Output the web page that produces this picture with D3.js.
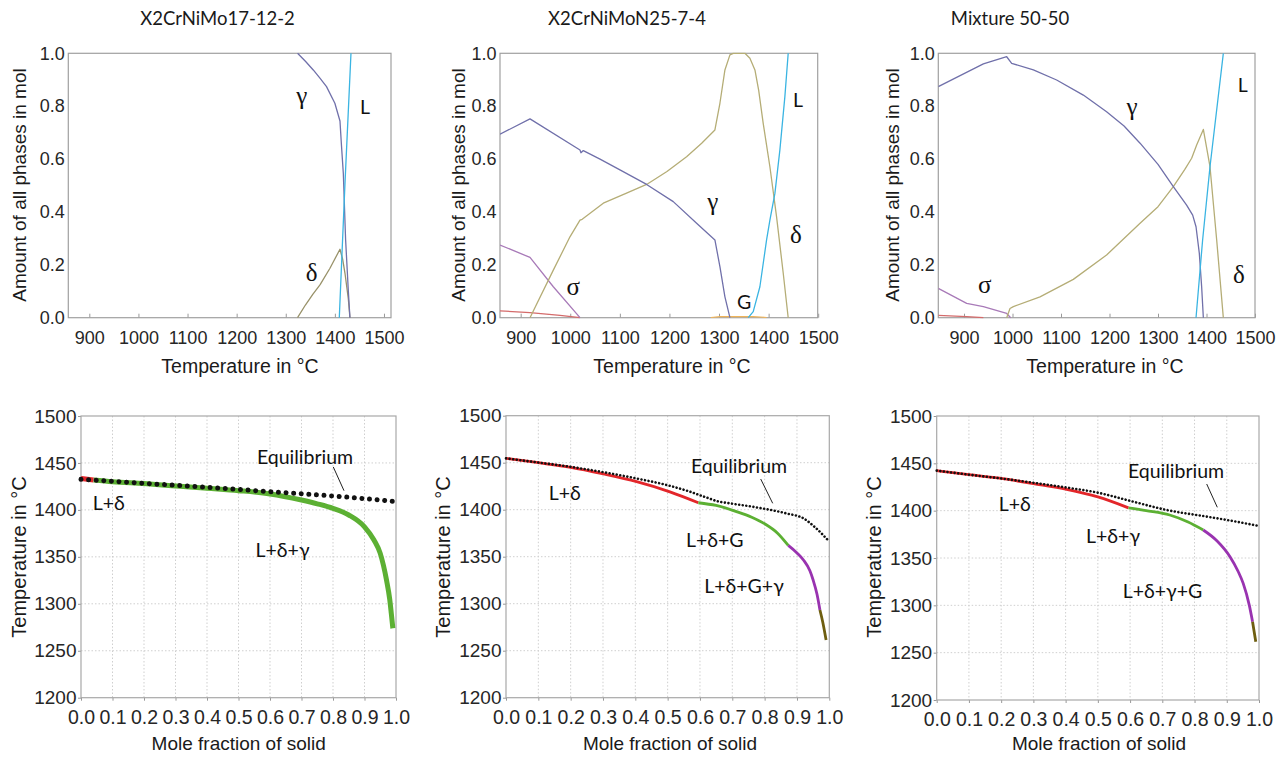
<!DOCTYPE html>
<html><head><meta charset="utf-8">
<script src="https://cdn.jsdelivr.net/npm/d3@7"></script>
<style>
body{margin:0;background:#fff;}
svg{display:block;}
</style></head><body>
<svg id="c" width="1288" height="758"></svg>
<script>
// ================= DATA =================
const titles = ["X2CrNiMo17-12-2", "X2CrNiMoN25-7-4", "Mixture 50-50"];
const tempTicks = [900, 1000, 1100, 1200, 1300, 1400, 1500];
const amountTicks = [0, 0.2, 0.4, 0.6, 0.8, 1.0];
const fractionTicks = [0, 0.1, 0.2, 0.3, 0.4, 0.5, 0.6, 0.7, 0.8, 0.9, 1.0];
const scheilTempTicks = [1200, 1250, 1300, 1350, 1400, 1450, 1500];

// Panel 1: X2CrNiMo17-12-2  [temperature, amount]
const p1Gamma = [[1324,1.0],[1340,0.97],[1356,0.937],[1370,0.905],[1383,0.874],[1400,0.811],[1410.4,0.744],[1413.5,0.65],[1417.2,0.546],[1421.9,0.294],[1427.3,0.105],[1430.7,0]];
const p1Liquid = [[1409,0],[1420.6,0.508],[1432.8,1.0]];
const p1Delta = [[1324,0],[1340,0.048],[1355,0.088],[1370,0.125],[1390,0.187],[1410.4,0.259],[1416,0.22],[1420.6,0.168],[1427.3,0.073],[1430.7,0]];

// Panel 2: X2CrNiMoN25-7-4
const p2Gamma = [[858.3,0.694],[918.8,0.752],[1019.6,0.634],[1021.6,0.624],[1026.3,0.632],[1060,0.6],[1100.2,0.559],[1154,0.504],[1207.7,0.439],[1254.8,0.357],[1291.7,0.294],[1301.8,0.193],[1311.9,0.079],[1322,0]];
const p2Delta = [[918.8,0],[965.8,0.18],[999.4,0.306],[1019.6,0.369],[1024,0.372],[1066.6,0.433],[1110,0.468],[1154,0.504],[1195,0.553],[1234.6,0.609],[1265,0.66],[1291.7,0.71],[1301.8,0.811],[1311.9,0.937],[1322,0.994],[1328.7,1.0],[1352.2,1.0],[1362.3,0.981],[1372.4,0.937],[1380,0.86],[1389.1,0.735],[1402.6,0.571],[1416,0.382],[1429.5,0.168],[1439.5,0]];
const p2Liquid = [[1358.9,0],[1369,0.023],[1382.4,0.117],[1395.9,0.294],[1402.6,0.369],[1412.7,0.47],[1422.7,0.634],[1432.8,0.836],[1439.5,1.0]];
const p2Sigma = [[858.3,0.275],[918.8,0.228],[965.8,0.117],[1019.6,0]];
const p2Minor = [[858.3,0.026],[918.8,0.019],[979.3,0.009],[1019.6,0]];
const p2Gphase = [[1283.6,0.001],[1301.8,0.004],[1369,0.004],[1395.9,0.001]];

// Panel 3: Mixture 50-50
const p3Gamma = [[847,0.874],[939.9,0.96],[988,0.987],[998.3,0.962],[1043,0.937],[1091,0.899],[1146,0.842],[1194,0.779],[1230,0.725],[1263,0.66],[1300,0.58],[1331.6,0.496],[1359,0.426],[1371.5,0.388],[1378.4,0.344],[1385.2,0.243],[1390,0.117],[1393.5,0]];
const p3Delta = [[988,0],[994.8,0.035],[1001.7,0.042],[1056.7,0.079],[1125.4,0.145],[1194,0.237],[1263,0.357],[1300,0.42],[1331.6,0.496],[1355,0.56],[1369.4,0.603],[1379.7,0.653],[1393.5,0.712],[1407.2,0.571],[1421,0.294],[1434.7,0]];
const p3Liquid = [[1378.4,0],[1392,0.294],[1407.2,0.571],[1434.7,1.0]];
const p3Sigma = [[847,0.111],[905.5,0.054],[939.9,0.042],[988,0.016],[996.2,0]];
const p3Minor = [[847,0.009],[905.5,0.004],[939.9,0]];

// Scheil panels  [mole fraction of solid, temperature]
const p4Equilibrium = [[0,1432.6],[0.1,1430.5],[0.2,1428.3],[0.3,1426.2],[0.4,1424],[0.5,1421.8],[0.6,1419.4],[0.7,1417.2],[0.8,1414.8],[0.9,1412],[1.0,1408.8]];
const p4Delta = [[0,1433.5],[0.02,1432.6],[0.04,1431.8]];
const p4DeltaGamma = [[0.04,1431.8],[0.1,1430],[0.2,1428],[0.3,1425.5],[0.4,1423],[0.5,1420.5],[0.6,1417],[0.7,1410.5],[0.75,1406.5],[0.8,1401.7],[0.85,1394.6],[0.9,1382],[0.93,1368],[0.95,1353.7],[0.97,1325],[0.98,1305],[0.985,1290],[0.99,1274]];

const p5Equilibrium = [[0,1454.6],[0.1,1450.2],[0.2,1445.6],[0.3,1440],[0.4,1433.5],[0.5,1426],[0.56,1420.2],[0.62,1413],[0.66,1408.5],[0.68,1407.4],[0.765,1403],[0.868,1396],[0.92,1390.8],[0.96,1380],[1.0,1366]];
const p5Delta = [[0,1454.6],[0.1,1450],[0.2,1445],[0.301,1438],[0.404,1429.8],[0.507,1419],[0.595,1407.4]];
const p5DeltaG = [[0.595,1407.4],[0.65,1404.5],[0.713,1398],[0.76,1392],[0.8,1385],[0.84,1375],[0.873,1362]];
const p5DeltaGGamma = [[0.873,1362],[0.9,1354],[0.92,1346.5],[0.94,1335],[0.95,1325.2],[0.962,1310],[0.971,1293.3]];
const p5Final = [[0.971,1293.3],[0.98,1280],[0.99,1261.5]];

const p6Equilibrium = [[0,1442.3],[0.1,1438],[0.2,1434],[0.3,1429.5],[0.4,1424.6],[0.5,1419],[0.61,1409.5],[0.714,1400.7],[0.838,1393.7],[0.92,1389],[1.0,1383.8]];
const p6Delta = [[0,1442.3],[0.1,1438],[0.2,1434],[0.3,1428.5],[0.403,1422.5],[0.5,1414.5],[0.595,1403]];
const p6DeltaGamma = [[0.595,1403],[0.65,1400],[0.723,1395.4],[0.78,1388],[0.827,1379.6]];
const p6DeltaGammaG = [[0.827,1379.6],[0.87,1368],[0.91,1351.4],[0.935,1336],[0.951,1323.2],[0.97,1300],[0.98,1282.7]];
const p6Final = [[0.98,1282.7],[0.985,1272],[0.99,1261.6]];

// ================= DRAWING =================
const svg = d3.select("#c");
const SANS = "'Liberation Sans', Arial, sans-serif";
const HUM = "Lato, 'Open Sans', sans-serif";
const SERIF = "'Liberation Serif', 'DejaVu Serif', serif";

const C = {
  gamma: "#7070aa", liquid: "#3ab4e2", delta1: "#99926a", delta: "#b5ad76",
  sigma: "#a87ab8", minor: "#d46b6b", gphase: "#efb45a",
  red: "#e3262a", green: "#5cb033", purple: "#9933b0", olive: "#6e5e10", eq: "#111"
};

function topPanel(cfg) {
  const x = d3.scaleLinear().domain(cfg.domain).range([cfg.x0, cfg.x1]);
  const y = d3.scaleLinear().domain([0, 1]).range([317.7, 53.3]);
  const g = svg.append("g");
  const clipId = "clip" + cfg.id;
  g.append("clipPath").attr("id", clipId).append("rect")
    .attr("x", cfg.x0).attr("y", y(1) - 1).attr("width", cfg.x1 - cfg.x0).attr("height", y(0) - y(1) + 2);

  const gx = g.append("g").attr("transform", `translate(0,${y(0)})`)
    .call(d3.axisBottom(x).tickValues(tempTicks).tickSizeInner(-4).tickSizeOuter(0).tickFormat(d3.format("d")));
  gx.select(".domain").remove();
  gx.selectAll("line").attr("stroke", "#9a9a9a");
  gx.selectAll("text").attr("dy", null).attr("y", 26)
    .style("font-family", SANS).style("font-size", "18px").attr("fill", "#262626");

  const gy = g.append("g").attr("transform", `translate(${cfg.x0},0)`)
    .call(d3.axisLeft(y).tickValues(amountTicks).tickSizeInner(0).tickSizeOuter(0).tickPadding(3.5).tickFormat(d3.format(".1f")));
  gy.select(".domain").remove();
  gy.selectAll("text").style("font-family", SANS).style("font-size", "18px").attr("fill", "#262626");

  g.append("rect").attr("x", cfg.x0).attr("y", y(1)).attr("width", cfg.x1 - cfg.x0).attr("height", y(0) - y(1))
    .attr("fill", "none").attr("stroke", "#a0a0a0").attr("stroke-width", 1.2);

  const line = d3.line().x(d => x(d[0])).y(d => y(d[1]));
  const lines = g.append("g").attr("clip-path", `url(#${clipId})`);
  cfg.series.forEach(s => {
    lines.append("path").datum(s.data).attr("d", line).attr("fill", "none")
      .attr("stroke", s.color).attr("stroke-width", s.w || 1.3).attr("stroke-linejoin", "round");
  });

  // axis titles
  g.append("text").attr("x", cfg.xTitle).attr("y", 373).attr("text-anchor", "middle")
    .style("font-family", SANS).style("font-size", "19.5px").attr("fill", "#1a1a1a").text("Temperature in °C");
  g.append("text").attr("transform", `translate(${cfg.yTitle},185) rotate(-90)`).attr("text-anchor", "middle")
    .style("font-family", SANS).style("font-size", "19px").attr("fill", "#1a1a1a").text("Amount of all phases in mol");
  // title
  g.append("text").attr("x", cfg.titleX).attr("y", 25).attr("text-anchor", "middle")
    .style("font-family", HUM).style("font-size", "18.5px").attr("fill", "#1a1a1a").text(cfg.title);
  // phase labels
  cfg.labels.forEach(l => {
    g.append("text").attr("x", l.x).attr("y", l.y).attr("text-anchor", "middle")
      .style("font-family", l.serif ? SERIF : HUM).style("font-size", (l.serif ? 25 : 19.5) + "px")
      .attr("fill", "#111").text(l.t);
  });
}

function bottomPanel(cfg) {
  const x = d3.scaleLinear().domain([0, 1]).range([cfg.x0, cfg.x1]);
  const y = d3.scaleLinear().domain([1200, 1500]).range([cfg.y1, cfg.y0]);
  const g = svg.append("g");

  // grid
  g.append("g").selectAll("line").data(fractionTicks.slice(1, -1)).join("line")
    .attr("x1", d => x(d)).attr("x2", d => x(d)).attr("y1", y(1500)).attr("y2", y(1200))
    .attr("stroke", "#cfcfcf").attr("stroke-width", 1).attr("stroke-dasharray", "1.5,2");
  g.append("g").selectAll("line").data(scheilTempTicks.slice(1, -1)).join("line")
    .attr("y1", d => y(d)).attr("y2", d => y(d)).attr("x1", x(0)).attr("x2", x(1))
    .attr("stroke", "#cfcfcf").attr("stroke-width", 1).attr("stroke-dasharray", "1.5,2");

  const gx = g.append("g").attr("transform", `translate(0,${y(1200)})`)
    .call(d3.axisBottom(x).tickValues(fractionTicks).tickSizeInner(3).tickSizeOuter(0).tickFormat(d3.format(".1f")));
  gx.select(".domain").remove();
  gx.selectAll("line").attr("stroke", "#999");
  gx.selectAll("text").attr("dy", null).attr("y", 26)
    .style("font-family", SANS).style("font-size", "19.5px").attr("fill", "#262626");

  const gy = g.append("g").attr("transform", `translate(${x(0)},0)`)
    .call(d3.axisLeft(y).tickValues(scheilTempTicks).tickSizeInner(3).tickSizeOuter(0).tickPadding(1.5).tickFormat(d3.format("d")));
  gy.select(".domain").remove();
  gy.selectAll("line").attr("stroke", "#999");
  gy.selectAll("text").style("font-family", SANS).style("font-size", "19px").attr("fill", "#262626");

  g.append("rect").attr("x", x(0)).attr("y", y(1500)).attr("width", x(1) - x(0)).attr("height", y(1200) - y(1500))
    .attr("fill", "none").attr("stroke", "#a8a8a8").attr("stroke-width", 1.2);

  const line = d3.line().x(d => x(d[0])).y(d => y(d[1])).curve(d3.curveMonotoneX);
  cfg.segments.forEach(s => {
    g.append("path").datum(s.data).attr("d", line).attr("fill", "none")
      .attr("stroke", s.color).attr("stroke-width", cfg.lw).attr("stroke-linecap", "butt");
  });
  g.append("path").datum(cfg.eq).attr("d", line).attr("fill", "none")
    .attr("stroke", C.eq).attr("stroke-width", cfg.eqW).attr("stroke-linecap", "round")
    .attr("stroke-dasharray", cfg.eqDash);

  // annotation
  g.append("line").attr("x1", cfg.ptr[0]).attr("y1", cfg.ptr[1]).attr("x2", cfg.ptr[2]).attr("y2", cfg.ptr[3])
    .attr("stroke", "#222").attr("stroke-width", 1);
  cfg.labels.forEach(l => {
    g.append("text").attr("x", l.x).attr("y", l.y).attr("text-anchor", "middle")
      .style("font-family", HUM).style("font-size", "19.5px").attr("fill", "#111").text(l.t);
  });

  g.append("text").attr("x", cfg.xTitle).attr("y", 750).attr("text-anchor", "middle")
    .style("font-family", SANS).style("font-size", "19px").attr("fill", "#1a1a1a").text("Mole fraction of solid");
  g.append("text").attr("transform", `translate(${cfg.yTitle},557) rotate(-90)`).attr("text-anchor", "middle")
    .style("font-family", SANS).style("font-size", "20px").attr("fill", "#1a1a1a").text("Temperature in °C");
}

topPanel({
  id: 1, domain: [857.2, 1514.3], x0: 68.3, x1: 391, xTitle: 240, yTitle: 25.5, titleX: 217.5, title: titles[0],
  series: [
    {data: p1Delta, color: C.delta1},
    {data: p1Gamma, color: C.gamma},
    {data: p1Liquid, color: C.liquid}
  ],
  labels: [
    {t: "γ", x: 301.7, y: 104, serif: true},
    {t: "δ", x: 311.7, y: 280.5, serif: true},
    {t: "L", x: 365, y: 114}
  ]
});
topPanel({
  id: 2, domain: [858.3, 1499], x0: 500, x1: 817.7, xTitle: 672, yTitle: 464.5, titleX: 627, title: titles[1],
  series: [
    {data: p2Minor, color: C.minor},
    {data: p2Sigma, color: C.sigma},
    {data: p2Gphase, color: C.gphase, w: 1.1},
    {data: p2Delta, color: C.delta},
    {data: p2Gamma, color: C.gamma},
    {data: p2Liquid, color: C.liquid}
  ],
  labels: [
    {t: "γ", x: 712.7, y: 210, serif: true},
    {t: "σ", x: 573.3, y: 295, serif: true},
    {t: "G", x: 744, y: 309.3},
    {t: "L", x: 798, y: 106.7},
    {t: "δ", x: 796, y: 242.7, serif: true}
  ]
});
topPanel({
  id: 3, domain: [847, 1500], x0: 938.3, x1: 1255, xTitle: 1105, yTitle: 898.5, titleX: 1010, title: titles[2],
  series: [
    {data: p3Minor, color: C.minor},
    {data: p3Sigma, color: C.sigma},
    {data: p3Delta, color: C.delta},
    {data: p3Gamma, color: C.gamma},
    {data: p3Liquid, color: C.liquid}
  ],
  labels: [
    {t: "γ", x: 1132, y: 115, serif: true},
    {t: "σ", x: 984.7, y: 293.3, serif: true},
    {t: "L", x: 1242.8, y: 91.7},
    {t: "δ", x: 1238.8, y: 283.3, serif: true}
  ]
});

bottomPanel({
  x0: 81, x1: 396, y0: 416, y1: 697.7, lw: 5, eqW: 5, eqDash: "0.01,7.6",
  xTitle: 238.7, yTitle: 25.5,
  segments: [{data: p4Delta, color: C.red}, {data: p4DeltaGamma, color: C.green}],
  eq: p4Equilibrium,
  ptr: [333.3, 467, 344, 490.7],
  labels: [
    {t: "Equilibrium", x: 305, y: 464},
    {t: "L+δ", x: 108.7, y: 510},
    {t: "L+δ+γ", x: 282.5, y: 556.7}
  ]
});
bottomPanel({
  x0: 506, x1: 829.3, y0: 415.7, y1: 697.7, lw: 2.8, eqW: 2.6, eqDash: "0.01,3.6",
  xTitle: 670, yTitle: 449.5,
  segments: [{data: p5Delta, color: C.red}, {data: p5DeltaG, color: C.green}, {data: p5DeltaGGamma, color: C.purple}, {data: p5Final, color: C.olive}],
  eq: p5Equilibrium,
  ptr: [760.7, 479, 772.7, 503.3],
  labels: [
    {t: "Equilibrium", x: 739, y: 473},
    {t: "L+δ", x: 564.7, y: 500},
    {t: "L+δ+G", x: 714.8, y: 546.7},
    {t: "L+δ+G+γ", x: 744, y: 593.3}
  ]
});
bottomPanel({
  x0: 936.7, x1: 1259, y0: 416, y1: 700, lw: 2.8, eqW: 2.6, eqDash: "0.01,3.6",
  xTitle: 1099, yTitle: 880.5,
  segments: [{data: p6Delta, color: C.red}, {data: p6DeltaGamma, color: C.green}, {data: p6DeltaGammaG, color: C.purple}, {data: p6Final, color: C.olive}],
  eq: p6Equilibrium,
  ptr: [1206.7, 484, 1217.3, 507.3],
  labels: [
    {t: "Equilibrium", x: 1176, y: 478},
    {t: "L+δ", x: 1014.7, y: 510.7},
    {t: "L+δ+γ", x: 1113, y: 543.3},
    {t: "L+δ+γ+G", x: 1162.5, y: 598.3}
  ]
});
</script>
</body></html>
